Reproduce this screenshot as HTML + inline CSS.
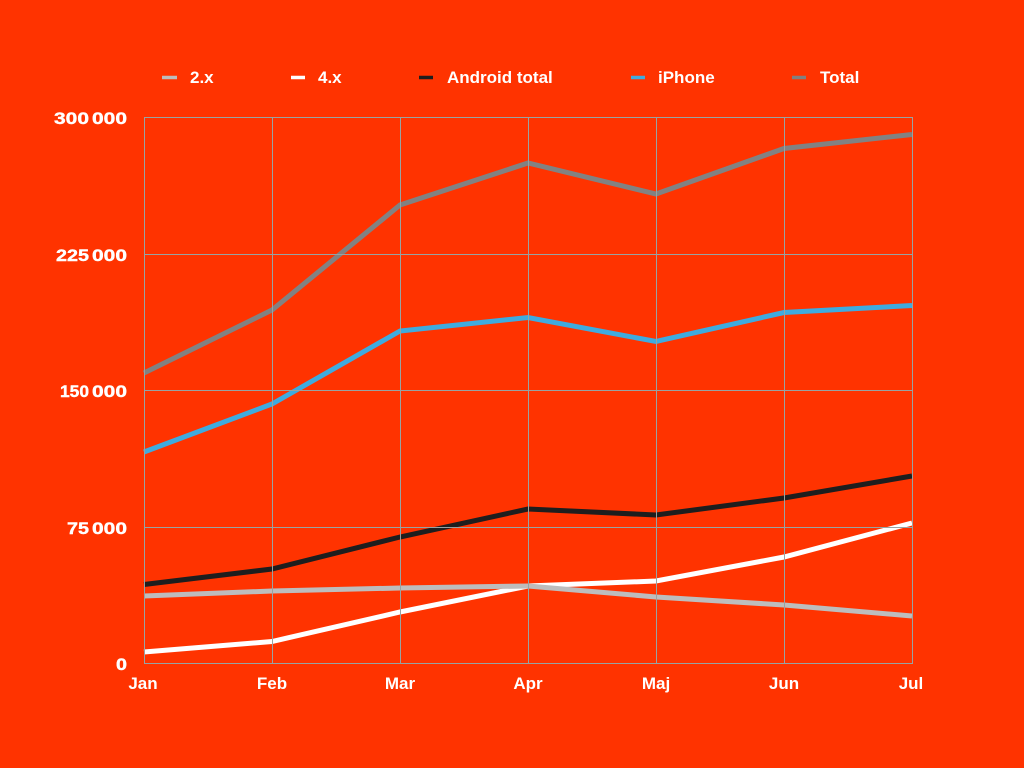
<!DOCTYPE html>
<html>
<head>
<meta charset="utf-8">
<style>
  html, body { margin:0; padding:0; background:#FF3300; }
  body { width:1024px; height:768px; overflow:hidden; }
  svg { display:block; }
  text { font-family:"Liberation Sans", Arial, sans-serif; font-weight:bold; fill:#fff; }
</style>
</head>
<body>
<svg width="1024" height="768" viewBox="0 0 1024 768" xmlns="http://www.w3.org/2000/svg">
  <rect x="0" y="0" width="1024" height="768" fill="#FF3300"/>

  <!-- Legend -->
  <g font-size="17">
    <line x1="162" y1="77.5" x2="177" y2="77.5" stroke="#bdbdbd" stroke-width="3.5"/>
    <text x="190" y="83">2.x</text>
    <line x1="291" y1="77.5" x2="305" y2="77.5" stroke="#ffffff" stroke-width="3.5"/>
    <text x="318" y="83">4.x</text>
    <line x1="419" y1="77.5" x2="433" y2="77.5" stroke="#1e1e1e" stroke-width="3.5"/>
    <text x="447" y="83">Android total</text>
    <line x1="631" y1="77.5" x2="645" y2="77.5" stroke="#3fabdf" stroke-width="3.5"/>
    <text x="658" y="83">iPhone</text>
    <line x1="792" y1="77.5" x2="806" y2="77.5" stroke="#808080" stroke-width="3.5"/>
    <text x="820" y="83">Total</text>
  </g>

  <!-- Series -->
  <g fill="none" stroke-width="5" stroke-linejoin="miter" stroke-linecap="butt">
    <polyline stroke="#ffffff" points="144,652 272,641.5 400,612 528,586 656,581 784,557 912,523"/>
    <polyline stroke="#bdbdbd" points="144,596 272,591 400,588 528,586 656,597 784,605 912,616"/>
    <polyline stroke="#1e1e1e" points="144,584.5 272,569 400,537 528,509 656,515 784,498 912,476"/>
    <polyline stroke="#3fabdf" points="144,452 272,404 400,331 528,317.5 656,341.5 784,312.5 912,305.5"/>
    <polyline stroke="#828282" points="144,373 272,310 400,205 528,163 656,194 784,148.5 912,134.5"/>
  </g>

  <!-- Grid (drawn on top) -->
  <g stroke="#98a3a3" stroke-width="1">
    <line x1="144" y1="117.5" x2="912" y2="117.5"/>
    <line x1="144" y1="254.5" x2="912" y2="254.5"/>
    <line x1="144" y1="390.5" x2="912" y2="390.5"/>
    <line x1="144" y1="527.5" x2="912" y2="527.5"/>
    <line x1="144" y1="663.5" x2="912" y2="663.5"/>
    <line x1="144.5" y1="117" x2="144.5" y2="664"/>
    <line x1="272.5" y1="117" x2="272.5" y2="664"/>
    <line x1="400.5" y1="117" x2="400.5" y2="664"/>
    <line x1="528.5" y1="117" x2="528.5" y2="664"/>
    <line x1="656.5" y1="117" x2="656.5" y2="664"/>
    <line x1="784.5" y1="117" x2="784.5" y2="664"/>
    <line x1="912.5" y1="117" x2="912.5" y2="664"/>
  </g>

  <!-- Y axis labels -->
  <g font-size="17" stroke="#fff" stroke-width="0.4">
    <text x="54" y="124" textLength="35" lengthAdjust="spacingAndGlyphs">300</text>
    <text x="92" y="124" textLength="35" lengthAdjust="spacingAndGlyphs">000</text>
    <text x="56" y="261" textLength="33" lengthAdjust="spacingAndGlyphs">225</text>
    <text x="92" y="261" textLength="35" lengthAdjust="spacingAndGlyphs">000</text>
    <text x="60" y="397" textLength="29" lengthAdjust="spacingAndGlyphs">150</text>
    <text x="92" y="397" textLength="35" lengthAdjust="spacingAndGlyphs">000</text>
    <text x="67" y="534" textLength="22" lengthAdjust="spacingAndGlyphs">75</text>
    <text x="92" y="534" textLength="35" lengthAdjust="spacingAndGlyphs">000</text>
    <text x="116" y="670" textLength="11" lengthAdjust="spacingAndGlyphs">0</text>
  </g>

  <!-- X axis labels -->
  <g font-size="17" text-anchor="middle">
    <text x="143" y="689">Jan</text>
    <text x="272" y="689">Feb</text>
    <text x="400" y="689">Mar</text>
    <text x="528" y="689">Apr</text>
    <text x="656" y="689">Maj</text>
    <text x="784" y="689">Jun</text>
    <text x="911" y="689">Jul</text>
  </g>
</svg>
</body>
</html>
